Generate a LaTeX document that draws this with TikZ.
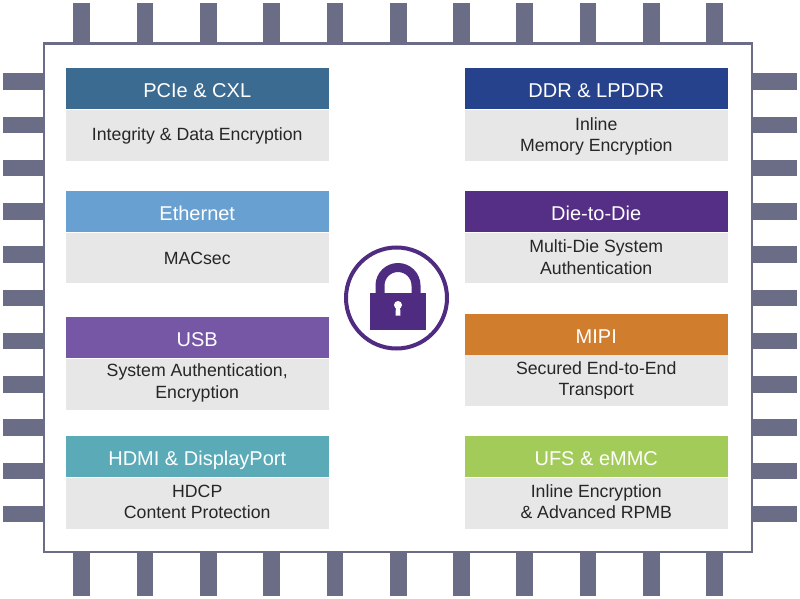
\documentclass[tikz,border=0pt]{standalone}
\usepackage{fontspec}
\setmainfont{Liberation Sans}
\usetikzlibrary{positioning}
\definecolor{pinc}{RGB}{107,109,135}
\definecolor{bodyc}{RGB}{231,231,232}
\definecolor{pciec}{RGB}{60,107,146}
\definecolor{ethc}{RGB}{104,161,209}
\definecolor{usbc}{RGB}{117,87,165}
\definecolor{hdmic}{RGB}{91,170,184}
\definecolor{ddrc}{RGB}{38,66,140}
\definecolor{diec}{RGB}{84,47,133}
\definecolor{mipic}{RGB}{208,125,46}
\definecolor{ufsc}{RGB}{163,203,90}
\definecolor{lockc}{RGB}{79,44,130}
\tikzset{
  every node/.style={inner sep=0pt,outer sep=0pt},
  pin/.style={fill=pinc,draw=none,anchor=north west},
  head/.style={anchor=north west,minimum width=262.5pt,minimum height=41pt,text=white,text height=20pt,text depth=1.5pt,font=\fontsize{20}{22}\selectfont},
  body/.style={fill=bodyc,anchor=north west,minimum width=262.5pt,align=center,text=black!85,font=\fontsize{17.7}{21.5}\selectfont},
}
\begin{document}
\begin{tikzpicture}[x=1pt,y=-1pt]
\useasboundingbox (0,0) rectangle (800,599);
\foreach \i in {0,...,10} {
  \node [pin,minimum width=16.7pt,minimum height=41pt] (top\i) at ({73.3+63.3*\i},3) {};
  \node [pin,minimum width=16.7pt,minimum height=45pt] (bot\i) at ({73.3+63.3*\i},551) {};
  \node [pin,minimum width=41pt,minimum height=16.5pt] (lef\i) at (3,{73.3+43.25*\i}) {};
  \node [pin,minimum width=45pt,minimum height=16.5pt] (rig\i) at (751.7,{73.3+43.25*\i}) {};
}
\node [draw=pinc,line width=2.5pt,fill=white,anchor=north west,minimum width=708pt,minimum height=508.5pt] (chip) at (44,43.5) {};
% left column
\node [head,fill=pciec] (pcie) at (66,68) {PCIe \& CXL};
\node [body,minimum height=51pt] (pcieb) at (66,110) {Integrity \& Data Encryption};
\node [head,fill=ethc] (eth) at (66,191) {Ethernet};
\node [body,minimum height=50pt] (ethb) at (66,233) {MACsec};
\node [head,fill=usbc] (usb) at (66,317) {USB};
\node [body,minimum height=51pt,text depth=6.7pt] (usbb) at (66,359) {System Authentication,\\Encryption};
\node [head,fill=hdmic] (hdmi) at (66,436) {HDMI \& DisplayPort};
\node [body,minimum height=51pt,text depth=3.2pt] (hdmib) at (66,478) {HDCP\\Content Protection};
% right column
\node [head,fill=ddrc] (ddr) at (465,68) {DDR \& LPDDR};
\node [body,minimum height=51pt,text height=36.5pt] (ddrb) at (465,110) {Inline\\Memory Encryption};
\node [head,fill=diec] (die) at (465,191) {Die-to-Die};
\node [body,minimum height=50pt,text depth=2.2pt] (dieb) at (465,233) {Multi-Die System\\Authentication};
\node [head,fill=mipic] (mipi) at (465,314) {MIPI};
\node [body,minimum height=51pt] (mipib) at (465,355) {Secured End-to-End\\Transport};
\node [head,fill=ufsc] (ufs) at (465,436) {UFS \& eMMC};
\node [body,minimum height=51pt,text depth=4.2pt] (ufsb) at (465,478) {Inline Encryption\\\& Advanced RPMB};
% lock
\node [circle,draw=lockc,line width=4pt,fill=white,minimum size=101pt] (ring) at (396.5,298) {};
\draw [lockc,line width=9pt] (380,293) -- (380,285.5) arc (180:360:18) -- (416,293);
\fill [lockc] (370,292.7) rectangle (425.7,330);
\fill [white] (398,305) circle (4);
\fill [white] (396,305) -- (400,305) -- (400.5,315.7) -- (395.5,315.7) -- cycle;
\end{tikzpicture}
\end{document}
